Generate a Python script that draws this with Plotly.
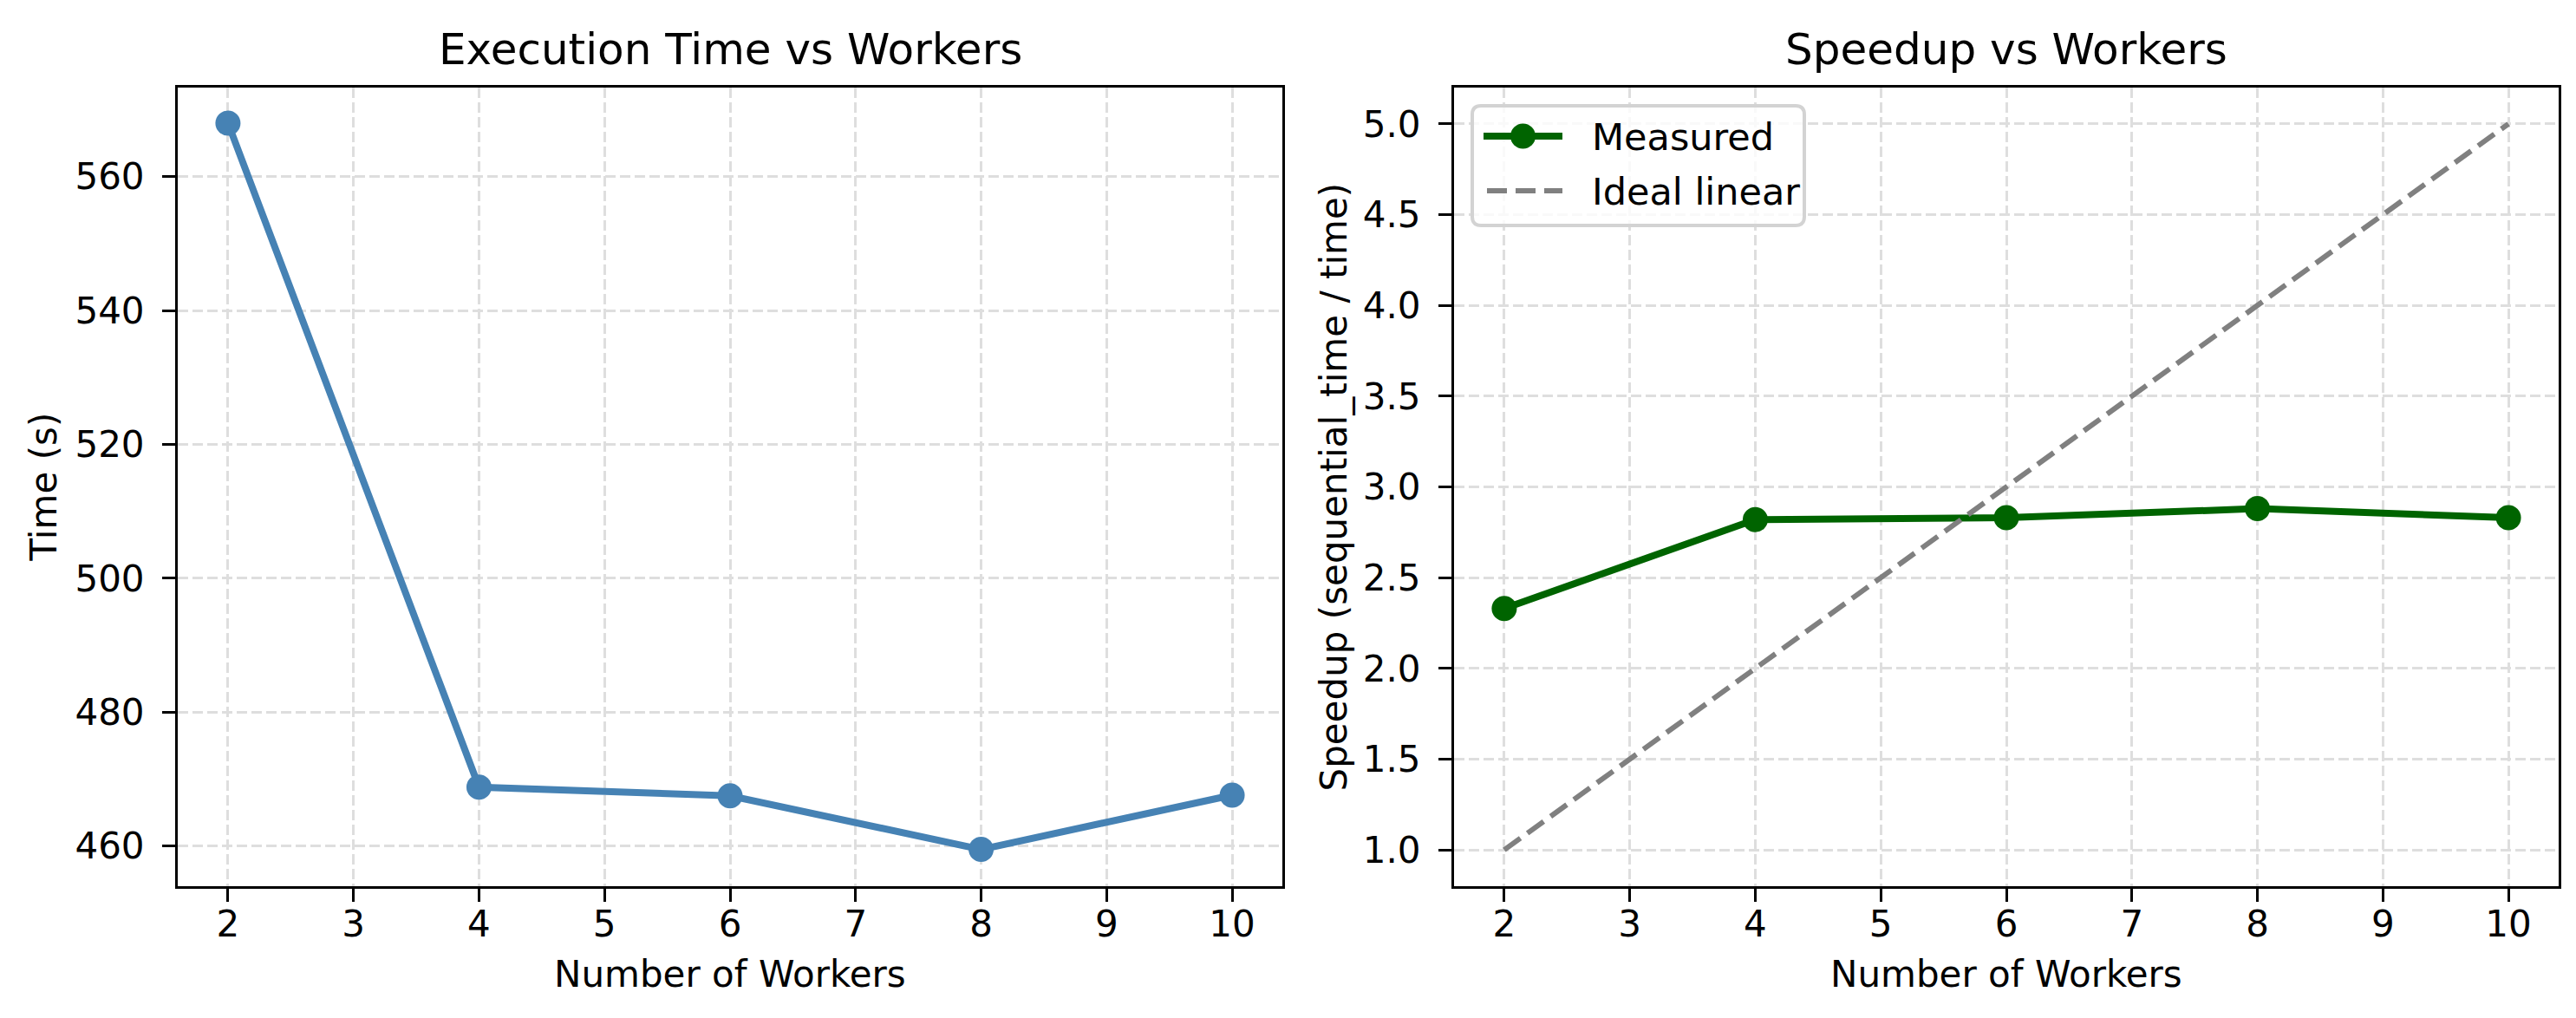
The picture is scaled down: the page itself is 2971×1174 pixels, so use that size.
"""Execution time and speedup against number of workers, two panels side by side."""

from __future__ import annotations

import plotly.graph_objects as go


WIDTH = 2971
HEIGHT = 1174
FONT = "DejaVu Sans"

WORKERS = [2, 4, 6, 8, 10]
TIME_S = [568.0, 468.8, 467.5, 459.5, 467.6]
SPEEDUP = [2.33, 2.82, 2.83, 2.88, 2.83]
IDEAL = [1.0, 2.0, 3.0, 4.0, 5.0]

LEFT_TITLE = "Execution Time vs Workers"
RIGHT_TITLE = "Speedup vs Workers"
X_LABEL = "Number of Workers"
LEFT_Y_LABEL = "Time (s)"
RIGHT_Y_LABEL = "Speedup (sequential_time / time)"
LEGEND_NAMES = ["Measured", "Ideal linear"]

TIME_COLOR = "#4682b4"
MEASURED_COLOR = "#006400"
IDEAL_COLOR = "#808080"
IDEAL_DASH = "23px,10px"


def px_x(value: float) -> float:
    return value / WIDTH


def px_y(value: float) -> float:
    return 1 - value / HEIGHT


def axis_style(**extra) -> dict:
    """Matplotlib-like axis: black frame, outside ticks, light dashed grid."""
    style = dict(
        showline=True,
        linecolor="black",
        linewidth=3,
        mirror=True,
        ticks="outside",
        ticklen=15,
        tickwidth=3,
        tickcolor="black",
        tickfont=dict(family=FONT, size=42, color="black"),
        showgrid=True,
        gridcolor="#dedede",
        gridwidth=3,
        griddash="12px,5px",
        zeroline=False,
    )
    style.update(extra)
    return style


def rounded_box(x0: float, y0: float, x1: float, y1: float, r: float) -> str:
    """SVG path (paper units) for a box with rounded corners, given in pixels."""
    def p(x, y):
        return f"{px_x(x):.5f},{px_y(y):.5f}"

    return (
        f"M{p(x0 + r, y0)} L{p(x1 - r, y0)} Q{p(x1, y0)} {p(x1, y0 + r)} "
        f"L{p(x1, y1 - r)} Q{p(x1, y1)} {p(x1 - r, y1)} "
        f"L{p(x0 + r, y1)} Q{p(x0, y1)} {p(x0, y1 - r)} "
        f"L{p(x0, y0 + r)} Q{p(x0, y0)} {p(x0 + r, y0)} Z"
    )


def add_legend(fig: go.Figure) -> None:
    """Matplotlib-style legend box in the upper left of the speedup panel."""
    fig.add_shape(
        type="path",
        path=rounded_box(1690, 114, 2073, 252, 10),
        xref="paper",
        yref="paper",
        fillcolor="rgba(255,255,255,0.8)",
        line=dict(color="#d3d3d3", width=4),
        layer="above",
    )
    rows = [149, 212]
    fig.add_shape(
        type="line",
        x0=px_x(1703), x1=px_x(1794), y0=px_y(rows[0]), y1=px_y(rows[0]),
        xref="paper", yref="paper",
        line=dict(color=MEASURED_COLOR, width=8),
        layer="above",
    )
    fig.add_shape(
        type="circle",
        x0=px_x(1748.5 - 14.5), x1=px_x(1748.5 + 14.5),
        y0=px_y(rows[0] - 14.5), y1=px_y(rows[0] + 14.5),
        xref="paper", yref="paper",
        fillcolor=MEASURED_COLOR,
        line=dict(width=0),
        layer="above",
    )
    fig.add_shape(
        type="line",
        x0=px_x(1707), x1=px_x(1794), y0=px_y(rows[1]), y1=px_y(rows[1]),
        xref="paper", yref="paper",
        line=dict(color=IDEAL_COLOR, width=6, dash=IDEAL_DASH),
        layer="above",
    )
    for name, row in zip(LEGEND_NAMES, rows):
        fig.add_annotation(
            text=name,
            x=px_x(1826),
            y=px_y(row + 1),
            xref="paper",
            yref="paper",
            xanchor="left",
            yanchor="middle",
            showarrow=False,
            font=dict(family=FONT, size=43, color="black"),
        )


def build_figure() -> go.Figure:
    fig = go.Figure()

    fig.add_trace(
        go.Scatter(
            x=WORKERS,
            y=TIME_S,
            mode="lines+markers",
            line=dict(color=TIME_COLOR, width=8),
            marker=dict(color=TIME_COLOR, size=29),
            xaxis="x",
            yaxis="y",
        )
    )
    fig.add_trace(
        go.Scatter(
            x=WORKERS,
            y=SPEEDUP,
            mode="lines+markers",
            name=LEGEND_NAMES[0],
            line=dict(color=MEASURED_COLOR, width=8),
            marker=dict(color=MEASURED_COLOR, size=29),
            xaxis="x2",
            yaxis="y2",
        )
    )
    fig.add_trace(
        go.Scatter(
            x=WORKERS,
            y=IDEAL,
            mode="lines",
            name=LEGEND_NAMES[1],
            line=dict(color=IDEAL_COLOR, width=6, dash=IDEAL_DASH),
            xaxis="x2",
            yaxis="y2",
        )
    )

    y_domain = [px_y(1014), px_y(93)]
    fig.update_layout(
        width=WIDTH,
        height=HEIGHT,
        margin=dict(l=0, r=0, t=0, b=0),
        paper_bgcolor="white",
        plot_bgcolor="white",
        showlegend=False,
        font=dict(family=FONT, color="black"),
        xaxis=axis_style(domain=[px_x(197), px_x(1471)], range=[1.6, 10.4], dtick=1,
                         anchor="y", ticklabelstandoff=-10),
        yaxis=axis_style(domain=y_domain, range=[454.0, 573.3], dtick=20,
                         anchor="x", ticklabelstandoff=12),
        xaxis2=axis_style(domain=[px_x(1669), px_x(2943)], range=[1.6, 10.4], dtick=1,
                          anchor="y2", ticklabelstandoff=-10),
        yaxis2=axis_style(domain=y_domain, range=[0.8, 5.2], dtick=0.5, tickformat=".1f",
                          anchor="x2", ticklabelstandoff=12),
    )

    labels = [
        (LEFT_TITLE, (197 + 1471) / 2, 49, 50, 0),
        (RIGHT_TITLE, (1669 + 2943) / 2, 49, 50, 0),
        (X_LABEL, (197 + 1471) / 2, 1115, 42, 0),
        (X_LABEL, (1669 + 2943) / 2, 1115, 42, 0),
        (LEFT_Y_LABEL, 42, (93 + 1014) / 2, 42, -90),
        (RIGHT_Y_LABEL, 1530, (93 + 1014) / 2, 42, -90),
    ]
    for text, x, y, size, angle in labels:
        fig.add_annotation(
            text=text,
            x=px_x(x),
            y=px_y(y),
            xref="paper",
            yref="paper",
            xanchor="center",
            yanchor="middle",
            showarrow=False,
            textangle=angle,
            font=dict(family=FONT, size=size, color="black"),
        )

    add_legend(fig)
    return fig


def main() -> None:
    fig = build_figure()
    fig.write_html("out.html")


if __name__ == "__main__":
    main()
